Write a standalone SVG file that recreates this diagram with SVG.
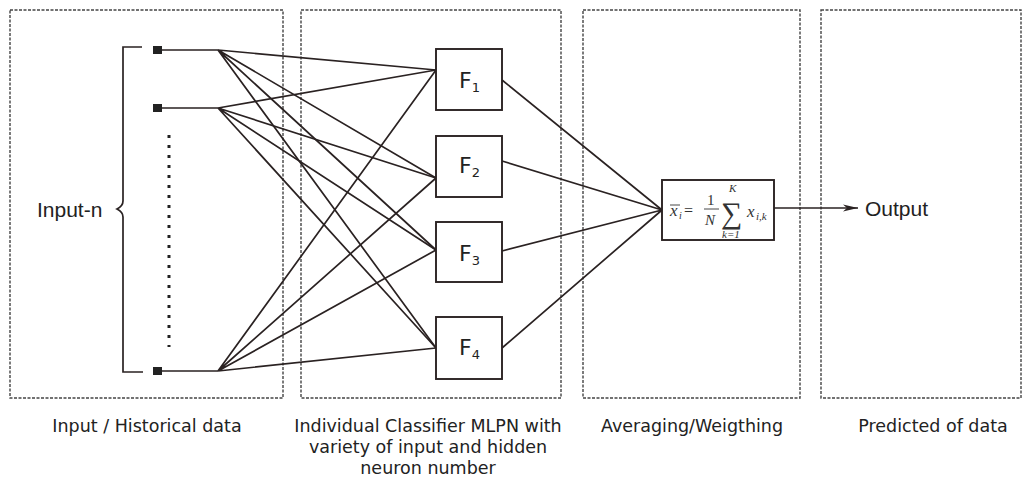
<svg xmlns="http://www.w3.org/2000/svg" width="1028" height="481" viewBox="0 0 1028 481">
<style>
.panel{fill:none;stroke:#444;stroke-width:1.4;stroke-dasharray:3 1.5}
.ln{stroke:#2a2222;stroke-width:1.7;fill:none}
.box{fill:#fff;stroke:#2a2222;stroke-width:1.9}
.lbl{font-family:"DejaVu Sans",sans-serif;font-size:17.5px;fill:#222;text-anchor:middle}
.fl{font-family:"DejaVu Sans",sans-serif;font-size:22px;fill:#222}
.sub{font-size:13px}
.ar{font-family:"Liberation Sans",Arial,sans-serif;font-size:21px;fill:#222}
.m{font-family:"Liberation Serif","Times New Roman",serif;font-style:italic;fill:#333}
.mr{font-family:"Liberation Serif","Times New Roman",serif;fill:#333}
</style>
<defs>
<marker id="arr" markerWidth="16" markerHeight="8" refX="15" refY="4" orient="auto" markerUnits="userSpaceOnUse">
<path d="M0,0.5 L15,4 L0,7.5 L4,4 Z" fill="#2a2222"/>
</marker>
</defs>
<rect width="1028" height="481" fill="#fff"/>
<g id="panels">
<rect class="panel" x="10" y="10" width="273" height="388"/>
<rect class="panel" x="301" y="10" width="260" height="388"/>
<rect class="panel" x="583" y="10" width="217" height="388"/>
<rect class="panel" x="821" y="10" width="200" height="388"/>
</g>
<g id="connectors">
<path class="ln" d="M157,50 H218 M157,108 H218 M157,371 H218"/>
<path class="ln" d="M218,50 L436,70 M218,50 L436,178 M218,50 L436,250 M218,50 L436,348"/>
<path class="ln" d="M218,108 L436,70 M218,108 L436,178 M218,108 L436,250 M218,108 L436,348"/>
<path class="ln" d="M218,371 L436,70 M218,371 L436,178 M218,371 L436,250 M218,371 L436,348"/>
<path class="ln" d="M502,80 L662,210 M502,161 L662,210 M502,251 L662,210 M502,348 L662,210"/>
<path class="ln" d="M774,208 H858" marker-end="url(#arr)"/>
</g>
<g id="input">
<path class="ln" d="M142,47 H123 V201 Q123,206 117,209 Q123,212 123,217 V372 H143"/>
<rect x="153" y="46" width="9" height="8" fill="#222"/>
<rect x="153" y="104" width="9" height="8" fill="#222"/>
<rect x="153" y="367" width="9" height="8" fill="#222"/>
<line x1="169" y1="135" x2="169" y2="347" stroke="#222" stroke-width="3" stroke-dasharray="3 7"/>
<text class="ar" x="37" y="217">Input-n</text>
</g>
<g id="f1"><rect class="box" x="436" y="49" width="66" height="61"/><text class="fl" x="459" y="88">F<tspan class="sub" dy="4">1</tspan></text></g>
<g id="f2"><rect class="box" x="436" y="136" width="66" height="61"/><text class="fl" x="459" y="173">F<tspan class="sub" dy="4">2</tspan></text></g>
<g id="f3"><rect class="box" x="436" y="222" width="66" height="60"/><text class="fl" x="459" y="261">F<tspan class="sub" dy="4">3</tspan></text></g>
<g id="f4"><rect class="box" x="436" y="317" width="66" height="62"/><text class="fl" x="459" y="355">F<tspan class="sub" dy="4">4</tspan></text></g>
<g id="avg">
<rect class="box" x="662" y="180" width="112" height="60"/>
<text class="m" x="670" y="216" font-size="17">x</text>
<line x1="670" y1="205" x2="680" y2="205" stroke="#333" stroke-width="0.9"/>
<text class="m" x="679" y="219" font-size="10">i</text>
<text class="mr" x="684" y="216" font-size="16">=</text>
<text class="mr" x="707" y="205" font-size="15">1</text>
<line x1="704" y1="209" x2="719" y2="209" stroke="#333" stroke-width="0.9"/>
<text class="m" x="705" y="225" font-size="15">N</text>
<text class="mr" x="721" y="223" font-size="30">∑</text>
<text class="m" x="729" y="192" font-size="11">K</text>
<text class="m" x="722" y="238" font-size="11">k<tspan class="mr">=1</tspan></text>
<text class="m" x="747" y="217" font-size="17">x</text>
<text class="m" x="756" y="220" font-size="11">i,k</text>
</g>
<g id="output"><text class="ar" x="865" y="216">Output</text></g>
<g id="labels">
<text class="lbl" x="147" y="432">Input / Historical data</text>
<text class="lbl" x="428" y="432">Individual Classifier MLPN with</text>
<text class="lbl" x="428" y="453">variety of input and hidden</text>
<text class="lbl" x="428" y="474">neuron number</text>
<text class="lbl" x="692" y="432">Averaging/Weigthing</text>
<text class="lbl" x="933" y="432">Predicted of data</text>
</g>
</svg>
